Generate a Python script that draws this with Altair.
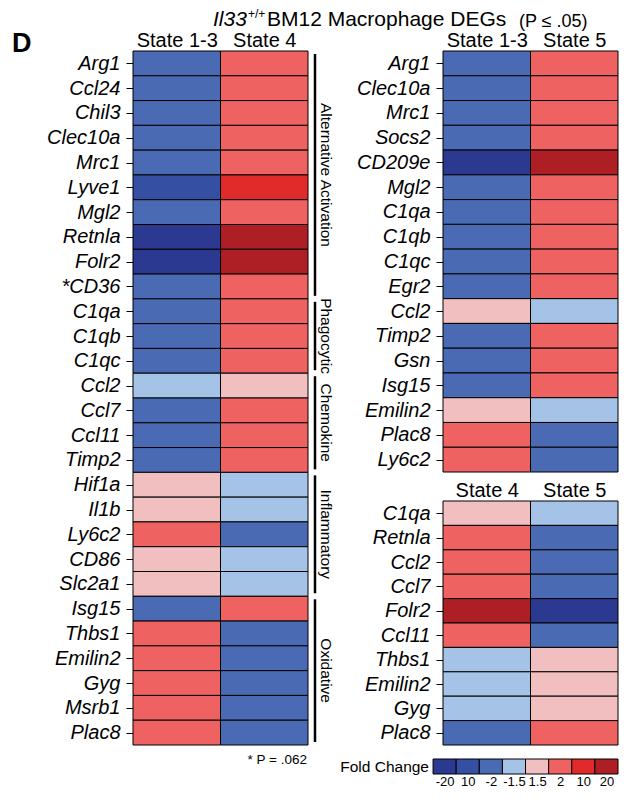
import json
import altair as alt
import pandas as pd

FONT = "Liberation Sans"

# ---- data ----
LEVELS = [-20, -10, -2, -1.5, 1.5, 2, 10, 20]
LEVEL_KEYS = [f"L{k}" for k in range(len(LEVELS))]
COLORS = ["#2b3990", "#3550a2", "#4a6ab3", "#a4c3e6", "#f1bfc0", "#ef6262", "#e12a2a", "#ad1f24"]
LEGEND_LABELS = ["-20", "10", "-2", "-1.5", "1.5", "2", "10", "20"]

left_genes = ["Arg1", "Ccl24", "Chil3", "Clec10a", "Mrc1", "Lyve1", "Mgl2", "Retnla", "Folr2", "*CD36",
              "C1qa", "C1qb", "C1qc", "Ccl2", "Ccl7", "Ccl11", "Timp2", "Hif1a", "Il1b", "Ly6c2",
              "CD86", "Slc2a1", "Isg15", "Thbs1", "Emilin2", "Gyg", "Msrb1", "Plac8"]
left_states = ["State 1-3", "State 4"]
left_state13 = [-2, -2, -2, -2, -2, -10, -2, -20, -20, -2, -2, -2, -2, -1.5, -2, -2, -2,
                1.5, 1.5, 2, 1.5, 1.5, -2, 2, 2, 2, 2, 2]
left_state4 = [2, 2, 2, 2, 2, 10, 2, 20, 20, 2, 2, 2, 2, 1.5, 2, 2, 2,
               -1.5, -1.5, -2, -1.5, -1.5, 2, -2, -2, -2, -2, -2]

groups = ["Alternative Activation", "Phagocytic", "Chemokine", "Inflammatory", "Oxidative"]
group_start = [0, 10, 13, 17, 22]
group_end = [10, 13, 17, 22, 28]

tr_genes = ["Arg1", "Clec10a", "Mrc1", "Socs2", "CD209e", "Mgl2", "C1qa", "C1qb", "C1qc", "Egr2",
            "Ccl2", "Timp2", "Gsn", "Isg15", "Emilin2", "Plac8", "Ly6c2"]
tr_states = ["State 1-3", "State 5"]
tr_state13 = [-2, -2, -2, -2, -20, -2, -2, -2, -2, -2, 1.5, -2, -2, -2, 1.5, 2, 2]
tr_state5 = [2, 2, 2, 2, 20, 2, 2, 2, 2, 2, -1.5, 2, 2, 2, -1.5, -2, -2]

br_genes = ["C1qa", "Retnla", "Ccl2", "Ccl7", "Folr2", "Ccl11", "Thbs1", "Emilin2", "Gyg", "Plac8"]
br_states = ["State 4", "State 5"]
br_state4 = [1.5, 2, 2, 2, 20, 2, -1.5, -1.5, -1.5, -2]
br_state5 = [-1.5, -2, -2, -2, -20, -2, 1.5, 1.5, 1.5, 2]


def key(v):
    return LEVEL_KEYS[LEVELS.index(v)]


color_enc = alt.Color("level:N", scale=alt.Scale(domain=LEVEL_KEYS, range=COLORS), legend=None)


def heat(genes, cols, values, width, grid_height, view_height):
    rows = []
    for j, (c, vals) in enumerate(zip(cols, values)):
        for i, (g, v) in enumerate(zip(genes, vals)):
            rows.append({"gene": g, "state": c, "i": i, "i2": i + 1, "j": j, "j2": j + 1,
                         "level": key(v), "fold": v})
    df = pd.DataFrame(rows)
    n = len(genes)
    # extra empty space below the grid keeps the rows at their size
    ymax = n * view_height / grid_height
    xs = alt.Scale(domain=[0, len(cols)], nice=False, zero=False)
    ys = alt.Scale(domain=[0, ymax], reverse=True, nice=False, zero=False)
    yaxis = alt.Axis(values=[k + 0.5 for k in range(n)],
                     labelExpr=f"{json.dumps(genes)}[floor(datum.value)]",
                     ticks=True, tickSize=7, tickColor="black", tickWidth=1,
                     domain=False, grid=False, labelFontSize=20,
                     labelFontStyle="italic", labelPadding=6, labelFlush=False,
                     labelOverlap=False, labelColor="black", labelFont=FONT, title=None)
    chart = alt.Chart(df).mark_rect(stroke="black", strokeWidth=1).encode(
        x=alt.X("j:Q", scale=xs, title=None,
                axis=alt.Axis(orient="top", values=[k + 0.5 for k in range(len(cols))],
                              labelExpr=f"{json.dumps(cols)}[floor(datum.value)]",
                              ticks=False, domain=False, grid=False, labelFontSize=20,
                              labelPadding=1, labelFlush=False, labelOverlap=False,
                              labelColor="black", labelFont=FONT)),
        x2="j2:Q",
        y=alt.Y("i:Q", scale=ys, title=None, axis=yaxis),
        y2="i2:Q",
        color=color_enc,
        tooltip=["gene:N", "state:N", "fold:Q"],
    ).properties(width=width, height=view_height)
    return chart, ys, yaxis


def text_at(txt, x, y, size, **kw):
    kw.setdefault("baseline", "alphabetic")
    return alt.Chart(pd.DataFrame({"t": [txt]})).mark_text(
        fontSize=size, font=FONT, color="black", **kw
    ).encode(x=alt.value(x), y=alt.value(y), text="t:N")


# ---- left panel ----
LW, LH = 175, 694
left_heat, left_ys, left_yaxis = heat(left_genes, left_states, [left_state13, left_state4], LW, LH, LH)
gdf = pd.DataFrame({"group": groups, "i": group_start, "i2": group_end,
                    "mid": [(s + e) / 2 for s, e in zip(group_start, group_end)]})
brackets = alt.Chart(gdf).mark_rule(color="black", strokeWidth=2.5, yOffset=3, y2Offset=-3).encode(
    x=alt.value(LW + 7),
    y=alt.Y("i:Q", scale=left_ys, axis=left_yaxis, title=None),
    y2="i2:Q",
)
group_labels = alt.Chart(gdf).mark_text(angle=90, fontSize=15.5, font=FONT, color="black",
                                        align="center", baseline="middle").encode(
    x=alt.value(LW + 18),
    y=alt.Y("mid:Q", scale=left_ys, axis=left_yaxis, title=None),
    text="group:N",
)

title_parts = [
    text_at("D", -121, 1, 27, fontWeight="bold", align="left"),
    text_at("Il33", 80, -25, 21, fontStyle="italic", align="left"),
    text_at("+/+", 115, -33, 12, align="left"),
    text_at("BM12 Macrophage DEGs", 134, -25, 21, align="left"),
    text_at("(P \u2264 .05)", 386, -24, 18, align="left"),
    text_at("* P = .062", LW - 1, LH + 19, 13.5, align="right"),
]

left = alt.layer(left_heat, brackets, group_labels, *title_parts)

# ---- right panels ----
GAP = 14
BRH = 244
TRH = LH - GAP - BRH
tr_heat, _, _ = heat(tr_genes, tr_states, [tr_state13, tr_state5], 175, 421, TRH)
br_heat, _, _ = heat(br_genes, br_states, [br_state4, br_state5], 175, BRH, BRH)

ldf = pd.DataFrame({"j": list(range(len(LEVEL_KEYS))), "j2": [k + 1 for k in range(len(LEVEL_KEYS))],
                    "level": LEVEL_KEYS})
legend_boxes = alt.Chart(ldf).mark_rect(stroke="black", strokeWidth=1).encode(
    x=alt.X("j:Q", scale=alt.Scale(domain=[0.43, len(LEVEL_KEYS)], nice=False, zero=False),
            title=None,
            axis=alt.Axis(values=[k + 0.5 for k in range(len(LEVEL_KEYS))],
                          labelExpr=f"{json.dumps(LEGEND_LABELS)}[floor(datum.value)]",
                          ticks=False, domain=False, grid=False, labelFontSize=13, labelPadding=1,
                          labelFlush=False, labelOverlap=False, labelColor="black", labelFont=FONT)),
    x2="j2:Q",
    color=color_enc,
).properties(width=175, height=15)
legend = alt.layer(legend_boxes,
                   text_at("Fold Change", -14, 8, 15.5, align="right", baseline="middle"))

right = alt.vconcat(tr_heat, br_heat, legend, spacing=GAP, bounds="flush")

chart = alt.hconcat(left, right, spacing=135, bounds="flush").properties(
    padding={"left": 4, "top": 0, "right": 0, "bottom": 0}
).configure(font=FONT).configure_view(stroke=None, strokeWidth=0)

chart.save("out.html", embed_options={"renderer": "svg", "actions": False})
